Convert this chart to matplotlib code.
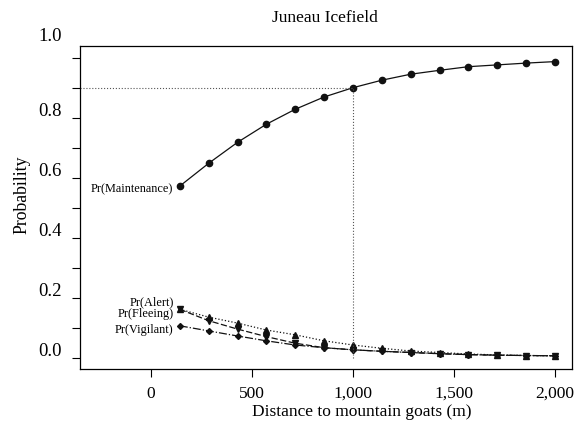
import matplotlib
matplotlib.use("Agg")
import matplotlib.pyplot as plt
import matplotlib.transforms as mtransforms

plt.rcParams['font.family'] = ['Liberation Serif', 'DejaVu Serif']

distance = [143, 286, 429, 571, 714, 857, 1000, 1143, 1286, 1429, 1571, 1714, 1857, 2000]
p_maintenance = [0.573, 0.649, 0.719, 0.779, 0.829, 0.870, 0.901, 0.926, 0.946, 0.959, 0.971, 0.977, 0.983, 0.988]
p_alert = [0.162, 0.136, 0.116, 0.093, 0.077, 0.057, 0.043, 0.032, 0.023, 0.018, 0.013, 0.010, 0.008, 0.007]
p_fleeing = [0.162, 0.124, 0.096, 0.071, 0.049, 0.034, 0.027, 0.022, 0.018, 0.014, 0.011, 0.009, 0.008, 0.007]
p_vigilant = [0.107, 0.090, 0.073, 0.057, 0.043, 0.034, 0.027, 0.022, 0.018, 0.014, 0.011, 0.009, 0.008, 0.007]

labels = ['Pr(Maintenance)', 'Pr(Alert)', 'Pr(Fleeing)', 'Pr(Vigilant)']
xticks = [0, 500, 1000, 1500, 2000]
xticklabels = ['0', '500', '1,000', '1,500', '2,000']
yticks_major = [0.0, 0.2, 0.4, 0.6, 0.8, 1.0]
yticks_minor = [0.1, 0.3, 0.5, 0.7, 0.9]
ref_distance = 1000
ref_prob = 0.9

W, H = 582, 428
fig = plt.figure(figsize=(W/100, H/100), dpi=100)
ax = fig.add_axes([80/W, (H-369)/H, 492/W, 323/H])
ax.set_xlim(-351, 2084)
ax.set_ylim(-0.037, 1.04)

c = '#111111'
ax.plot(distance, p_maintenance, '-', color=c, lw=0.9, marker='o', ms=4.5)
ax.plot(distance, p_alert, ':', color=c, lw=0.9, marker='^', ms=4)
ax.plot(distance, p_fleeing, '--', color=c, lw=0.9, marker='v', ms=4, dashes=(5, 2))
ax.plot(distance, p_vigilant, '-.', color=c, lw=0.9, marker='D', ms=3)

# reference lines
ax.plot([-351, ref_distance], [ref_prob, ref_prob], ':', color='#555555', lw=0.8)
ax.plot([ref_distance, ref_distance], [0.0, ref_prob], ':', color='#555555', lw=0.8)

# annotations
fs_ann = 8.8
ax.annotate(labels[0], (distance[0], p_maintenance[0]), xytext=(-5, -2.5), textcoords='offset points',
            ha='right', va='center', fontsize=fs_ann)
ax.annotate(labels[1], (distance[0], p_alert[0]), xytext=(-4.5, 5), textcoords='offset points',
            ha='right', va='center', fontsize=fs_ann)
ax.annotate(labels[2], (distance[0], p_fleeing[0]), xytext=(-4.5, -3.2), textcoords='offset points',
            ha='right', va='center', fontsize=fs_ann)
ax.annotate(labels[3], (distance[0], p_vigilant[0]), xytext=(-4.5, -3), textcoords='offset points',
            ha='right', va='center', fontsize=fs_ann)

ax.set_xticks(xticks)
ax.set_xticklabels(xticklabels, fontsize=12.5)
ax.set_yticks(yticks_major)
ax.set_yticklabels([f'{v:.1f}' for v in yticks_major], fontsize=13.5)
ax.set_yticks(yticks_minor, minor=True)
ax.tick_params(axis='y', which='both', direction='out', length=5.5, width=0.8, pad=7.5)
ax.tick_params(axis='x', which='major', direction='out', length=6, width=0.8, pad=6)

# scanned-figure label offsets
for i, lab in enumerate(ax.get_yticklabels()):
    shift = 23 if yticks_major[i] == 1.0 else 8
    lab.set_transform(lab.get_transform() + mtransforms.ScaledTranslation(0, shift/100, fig.dpi_scale_trans))

for s in ax.spines.values():
    s.set_linewidth(0.9)

fig.text(362/W, 1 - 416/H, 'Distance to mountain goats (m)', ha='center', va='baseline', fontsize=12.5)
fig.text(22/W, 1 - 195/H, 'Probability', ha='center', va='center', rotation=90, fontsize=12.8)
fig.text(325/W, 1 - 18/H, 'Juneau Icefield', ha='center', va='center', fontsize=12.5)

fig.savefig('out.png', dpi=100)
